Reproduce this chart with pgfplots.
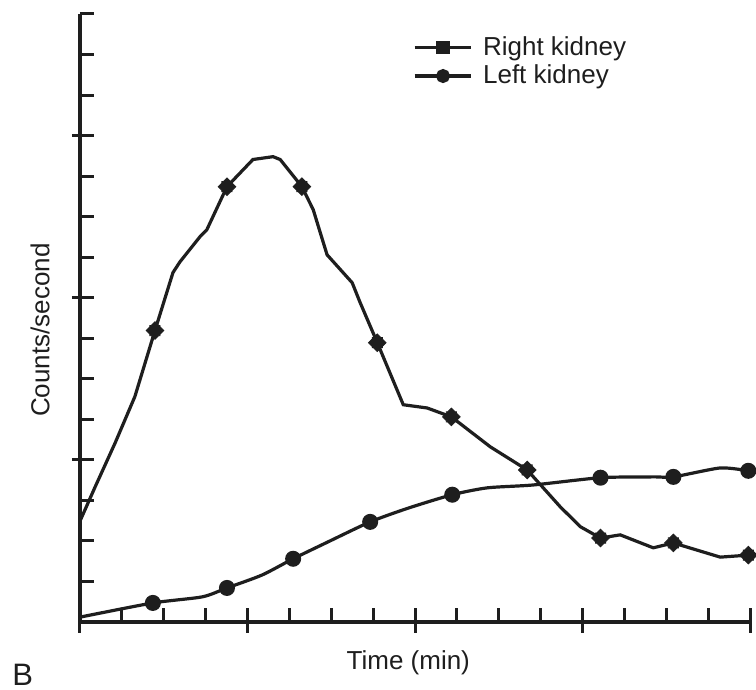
\documentclass[border=0pt]{standalone}
\usepackage{pgfplots}
\pgfplotsset{compat=1.18}
\usepackage{fontspec}
\setmainfont{Liberation Sans}
\usetikzlibrary{calc}
\definecolor{ink}{HTML}{1E1E1E}
\pgfdeclareplotmark{rk}{%
  \pgfpathmoveto{\pgfqpoint{0pt}{\pgfplotmarksize}}%
  \pgfpathlineto{\pgfqpoint{0.42\pgfplotmarksize}{0.58\pgfplotmarksize}}%
  \pgfpathlineto{\pgfqpoint{0.58\pgfplotmarksize}{0.58\pgfplotmarksize}}%
  \pgfpathlineto{\pgfqpoint{0.58\pgfplotmarksize}{0.42\pgfplotmarksize}}%
  \pgfpathlineto{\pgfqpoint{\pgfplotmarksize}{0pt}}%
  \pgfpathlineto{\pgfqpoint{0.58\pgfplotmarksize}{-0.42\pgfplotmarksize}}%
  \pgfpathlineto{\pgfqpoint{0.58\pgfplotmarksize}{-0.58\pgfplotmarksize}}%
  \pgfpathlineto{\pgfqpoint{0.42\pgfplotmarksize}{-0.58\pgfplotmarksize}}%
  \pgfpathlineto{\pgfqpoint{0pt}{-\pgfplotmarksize}}%
  \pgfpathlineto{\pgfqpoint{-0.42\pgfplotmarksize}{-0.58\pgfplotmarksize}}%
  \pgfpathlineto{\pgfqpoint{-0.58\pgfplotmarksize}{-0.58\pgfplotmarksize}}%
  \pgfpathlineto{\pgfqpoint{-0.58\pgfplotmarksize}{-0.42\pgfplotmarksize}}%
  \pgfpathlineto{\pgfqpoint{-\pgfplotmarksize}{0pt}}%
  \pgfpathlineto{\pgfqpoint{-0.58\pgfplotmarksize}{0.42\pgfplotmarksize}}%
  \pgfpathlineto{\pgfqpoint{-0.58\pgfplotmarksize}{0.58\pgfplotmarksize}}%
  \pgfpathlineto{\pgfqpoint{-0.42\pgfplotmarksize}{0.58\pgfplotmarksize}}%
  \pgfpathclose
  \pgfusepathqfillstroke}
\begin{document}
\begin{tikzpicture}
\begin{axis}[
  name=ax, scale only axis, width=335pt, height=304pt,
  xmin=0, xmax=16, ymin=0, ymax=15, clip=false,
  axis x line*=bottom, axis y line*=left,
  axis line style={-, line width=1.7pt, color=ink},
  xtick={0,4,8,12,16}, ytick={0,4,8,12},
  minor xtick={1,2,3,5,6,7,9,10,11,13,14,15},
  minor ytick={1,2,3,5,6,7,9,10,11,13,14,15},
  xticklabels={}, yticklabels={},
  tick align=inside, major tick length=7pt, minor tick length=7pt,
  tick style={line width=1.5pt, color=ink},
  extra x ticks={0,4,8,12,16}, extra x tick labels={},
  extra x tick style={grid=none, tick align=outside, major tick length=5.5pt},
  extra y ticks={4,8,12}, extra y tick labels={},
  extra y tick style={grid=none, tick align=outside, major tick length=4pt},
  xlabel={Time (min)},
  xlabel style={at={(axis description cs:0.49,-0.0674)}, anchor=center, font=\fontsize{13}{15}\selectfont, text=ink},
  ylabel={Counts/second},
  ylabel style={at={(axis description cs:-0.0597,0.48)}, anchor=center, font=\fontsize{13}{15}\selectfont, text=ink},
  legend style={draw=none, fill=none, at={(axis description cs:0.497,0.966)}, anchor=north west,
    font=\fontsize{13}{15}\selectfont, text=ink, inner sep=0pt, outer sep=0pt,
    nodes={inner sep=1pt}, row sep=1.3pt, column sep=4pt},
  legend cell align=left,
]
\addplot[ink, line width=1.6pt, mark=rk, mark size=4.4pt, mark options={solid, fill=ink, line width=0.4pt},
  mark indices={5,10,14,19,22,24,27,30,32},
  legend image code/.code={\draw[ink, line width=1.6pt] (0cm,0cm) -- (1cm,0cm);
    \fill[ink] (0.5cm,0cm) ++(-2.6pt,-2.6pt) rectangle ++(5.2pt,5.2pt);}]
coordinates {
(0,2.49) (0.36,3.33) (0.84,4.42) (1.31,5.56) (1.79,7.19) (2.22,8.62) (2.39,8.89)
(2.87,9.51) (3.03,9.68) (3.51,10.74) (4.13,11.41) (4.61,11.48) (4.78,11.41)
(5.30,10.74) (5.57,10.17) (5.90,9.06) (6.50,8.37) (6.69,7.88) (7.10,6.89)
(7.72,5.36) (8.29,5.28) (8.87,5.06) (9.80,4.32) (10.68,3.75) (11.47,2.84)
(11.95,2.35) (12.43,2.07) (12.90,2.15) (13.69,1.83) (14.17,1.95) (15.29,1.60)
(15.96,1.65)
};
\addlegendentry{Right kidney}
\addplot[ink, line width=1.6pt, smooth, tension=0.4, mark=*, mark size=3.2pt, mark options={solid, fill=ink},
  mark indices={2,4,6,8,10,13,15,17},
  legend image code/.code={\draw[ink, line width=1.6pt] (0cm,0cm) -- (1cm,0cm);
    \fill[ink] (0.5cm,0cm) circle (2.7pt);}]
coordinates {
(0,0.12) (1.74,0.47) (2.92,0.62) (3.51,0.84) (4.35,1.16) (5.09,1.56) (5.93,1.98)
(6.93,2.47) (7.84,2.81) (8.89,3.14) (9.73,3.31) (10.82,3.38) (12.43,3.56)
(13.69,3.58) (14.17,3.58) (15.29,3.80) (15.96,3.73)
};
\addlegendentry{Left kidney}
\node[font=\fontsize{15.5}{18}\selectfont, text=ink, anchor=base west, inner sep=0pt]
  at (axis description cs:-0.1015,-0.104) {B};
\end{axis}
\pgfresetboundingbox
\path[use as bounding box] ($(ax.south west)+(-40pt,-34pt)$) rectangle ($(ax.north east)+(3pt,7pt)$);
\end{tikzpicture}
\end{document}
